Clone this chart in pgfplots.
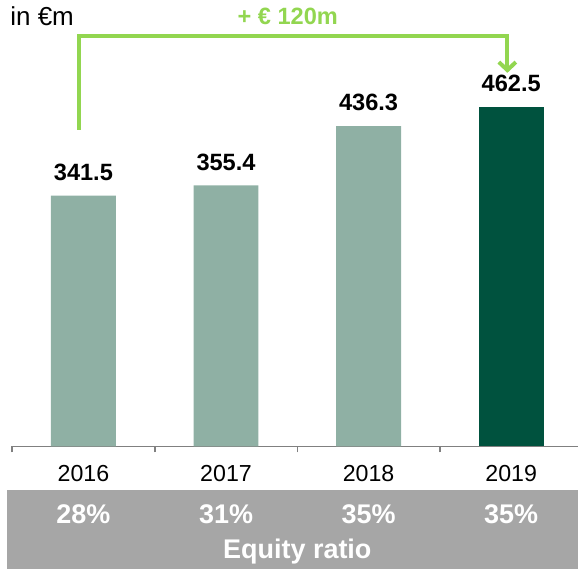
\documentclass[border=0pt]{standalone}
\usepackage{fontspec}
\setmainfont{Liberation Sans}
\usepackage{pgfplots}
\pgfplotsset{compat=1.18}
\usetikzlibrary{arrows.meta}

\definecolor{barlight}{RGB}{143,176,164}
\definecolor{bardark}{RGB}{0,82,62}
\definecolor{bandgray}{RGB}{166,166,166}
\definecolor{arrowgreen}{RGB}{146,214,80}
\definecolor{axisgray}{RGB}{128,128,128}

\begin{document}
\begin{tikzpicture}[font=\fontsize{11.5}{13.8}\selectfont]
\begin{axis}[
    scale only axis,
    width=283.4pt, height=223.5pt,
    xmin=-0.5, xmax=3.47,
    ymin=0, ymax=608,
    ybar, bar width=32.5pt, bar shift=0pt,
    axis x line=bottom, axis y line=none,
    axis line style={-, axisgray, line width=0.8pt},
    xtick={0,1,2,3},
    xticklabels={2016,2017,2018,2019},
    major x tick style={draw=none},
    minor xtick={-0.5,0.5,1.5,2.5},
    minor x tick style={axisgray, line width=0.8pt},
    minor tick length=3pt,
    tick align=outside,
    xticklabel style={yshift=-1.5pt, font=\fontsize{11.6}{13.8}\selectfont},
    nodes near coords,
    nodes near coords style={/pgf/number format/.cd, fixed, fixed zerofill, precision=1, assume math mode=true,
        /tikz/.cd, font=\fontsize{11.8}{14}\selectfont\bfseries, black, yshift=4pt},
    clip=false,
]
\addplot[fill=barlight, draw=none] coordinates {(0,341.5) (1,355.4) (2,436.3)};
\addplot[fill=bardark, draw=none, nodes near coords style={yshift=0pt}] coordinates {(3,462.5)};

% bounding box
\path (axis cs:-0.585,608) (axis cs:3.471,-167.3);
% equity ratio band
\fill[bandgray] (axis cs:-0.536,-59.9) rectangle (axis cs:3.471,-167.3);
\node[white, font=\fontsize{13.5}{16}\selectfont\bfseries] at (axis cs:0,-92.5) {28\%};
\node[white, font=\fontsize{13.5}{16}\selectfont\bfseries] at (axis cs:1,-92.5) {31\%};
\node[white, font=\fontsize{13.5}{16}\selectfont\bfseries] at (axis cs:2,-92.5) {35\%};
\node[white, font=\fontsize{13.5}{16}\selectfont\bfseries] at (axis cs:3,-92.5) {35\%};
\node[white, font=\fontsize{13.5}{16}\selectfont\bfseries] at (axis cs:1.5,-142.8) {Equity ratio};

% unit
\node[anchor=west, inner sep=0pt, font=\fontsize{13}{15.6}\selectfont] at (axis cs:-0.515,586.3) {in €m};
% growth arrow
\draw[arrowgreen, line width=2pt, -{Straight Barb[length=4pt,width=8.5pt]}]
    (axis cs:-0.032,431) |- (axis cs:2.973,559) -- (axis cs:2.973,508.8);
\node[arrowgreen, font=\fontsize{11.8}{14}\selectfont\bfseries] at (axis cs:1.433,586.3) {+ € 120m};
\end{axis}
\end{tikzpicture}
\end{document}
